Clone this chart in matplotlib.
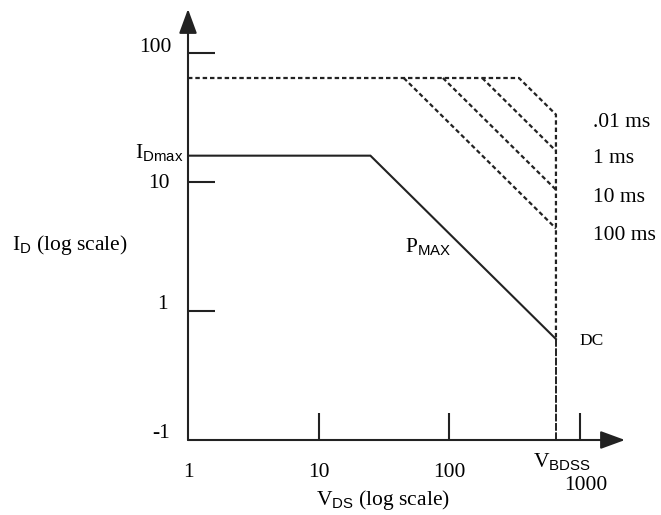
import matplotlib
matplotlib.use('Agg')
import matplotlib.pyplot as plt

# safe operating area values
id_max = 16          # A, drain current limit
i_pulse = 64         # A, pulsed current limit
p_max = 400          # W, DC power limit
v_bdss = 660         # V, breakdown voltage
pulse_labels = ['.01 ms', '1 ms', '10 ms', '100 ms']
pulse_power = [22000, 11500, 5750, 2880]   # W
x_ticks = [10, 100, 1000]
y_ticks = [1, 10, 100]
x_tick_labels = ['1', '10', '100']
y_tick_labels = ['100', '10', '1', '-1']


def main():
    plt.rcParams['font.family'] = ['Liberation Serif', 'DejaVu Serif']
    plt.rcParams['mathtext.fontset'] = 'custom'
    plt.rcParams['mathtext.rm'] = 'Liberation Serif'
    plt.rcParams['mathtext.sf'] = 'Liberation Sans'
    fs = 15.5

    fig = plt.figure(figsize=(6.61, 5.15), dpi=100)
    ax = fig.add_axes([188 / 661, 75 / 515, 437 / 661, 431 / 515])
    ax.set_xscale('log')
    ax.set_yscale('log')
    x_lo, y_lo = 1, 0.1
    x_hi, y_hi = 10 ** (437 / 130.5), 10 ** (431 / 129 - 1)
    ax.set_xlim(x_lo, x_hi)
    ax.set_ylim(y_lo, y_hi)
    for s in ax.spines.values():
        s.set_visible(False)
    ax.minorticks_off()
    ax.set_xticks(x_ticks)
    ax.set_yticks(y_ticks)
    ax.tick_params(direction='in', length=19.5, width=1.5, color='#222222',
                   labelleft=False, labelbottom=False)

    # axes with arrow heads
    arrow = dict(arrowstyle='-|>,head_length=0.6,head_width=0.22', mutation_scale=25,
                 lw=1.5, color='#222222', shrinkA=0, shrinkB=0)
    ax.annotate('', xy=(x_hi, y_lo), xytext=(x_lo, y_lo), arrowprops=arrow,
                annotation_clip=False)
    ax.annotate('', xy=(x_lo, y_hi), xytext=(x_lo, y_lo), arrowprops=arrow,
                annotation_clip=False)

    dash = (0, (2, 1.3))
    # DC limit: I_Dmax, then constant power down to V_BDSS
    v_knee = p_max / id_max
    i_dc = p_max / v_bdss
    ax.plot([x_lo, v_knee, v_bdss], [id_max, id_max, p_max / v_bdss],
            color='#222222', lw=1.5, solid_joinstyle='miter')
    # pulsed limit (outer envelope, .01 ms)
    v0 = pulse_power[0] / i_pulse
    ax.plot([x_lo, v0, v_bdss, v_bdss], [i_pulse, i_pulse, pulse_power[0] / v_bdss, i_dc],
            color='#222222', lw=1.6, linestyle=dash)
    for p in pulse_power[1:]:
        ax.plot([p / i_pulse, v_bdss], [i_pulse, p / v_bdss],
                color='#222222', lw=1.6, linestyle=dash)
    # breakdown line below DC point
    ax.plot([v_bdss, v_bdss], [i_dc, y_lo], color='#222222', lw=1.4,
            linestyle=(0, (4, 0.8)))

    # pulse labels
    for lab, p in zip(pulse_labels, pulse_power):
        ax.annotate(lab, xy=(v_bdss, p / v_bdss), xytext=(37, -12),
                    textcoords='offset pixels', fontsize=fs, ha='left', va='baseline',
                    annotation_clip=False)
    ax.annotate('DC', xy=(v_bdss, i_dc), xytext=(24, -6), textcoords='offset pixels',
                fontsize=fs - 3, ha='left', va='baseline')
    v_lab = 111
    ax.annotate(r'$\mathrm{P}_{\mathsf{MAX}}$', xy=(v_lab, p_max / v_lab), xytext=(-3, -13),
                textcoords='offset pixels', fontsize=fs, ha='right', va='baseline')

    # y tick labels
    y_lab_pos = [100, 10, 1, y_lo]
    y_dx = [-16, -18, -20, -18]
    y_dy = [1, -6, 2, 2]
    for lab, y, dx, dy in zip(y_tick_labels, y_lab_pos, y_dx, y_dy):
        ax.annotate(lab, xy=(x_lo, y), xytext=(dx, dy), textcoords='offset pixels',
                    fontsize=fs, ha='right', va='baseline', annotation_clip=False)
    ax.annotate(r'$\mathrm{I}_{\mathsf{Dmax}}$', xy=(x_lo, id_max), xytext=(-5, -3),
                textcoords='offset pixels', fontsize=fs, ha='right', va='baseline',
                annotation_clip=False)

    # x tick labels
    for lab, x in zip(x_tick_labels, [1, 10, 100]):
        ax.annotate(lab, xy=(x, y_lo), xytext=(0, -37), textcoords='offset pixels',
                    fontsize=fs, ha='center', va='baseline', annotation_clip=False)
    ax.annotate('1000', xy=(1000, y_lo), xytext=(6, -50), textcoords='offset pixels',
                fontsize=fs, ha='center', va='baseline', annotation_clip=False)
    ax.annotate(r'$\mathrm{V}_{\mathsf{BDSS}}$', xy=(v_bdss, y_lo), xytext=(-23, -27),
                textcoords='offset pixels', fontsize=fs, ha='left', va='baseline',
                annotation_clip=False)

    # axis titles
    ax.text(0.446, -0.151, r'$\mathrm{V}_{\mathsf{DS}}$ (log scale)', transform=ax.transAxes,
            fontsize=fs, ha='center', va='baseline')
    ax.text(-0.403, 0.441, r'$\mathrm{I}_{\mathsf{D}}$ (log scale)', transform=ax.transAxes,
            fontsize=fs, ha='left', va='baseline')

    fig.savefig('out.png', dpi=100)


if __name__ == '__main__':
    main()
